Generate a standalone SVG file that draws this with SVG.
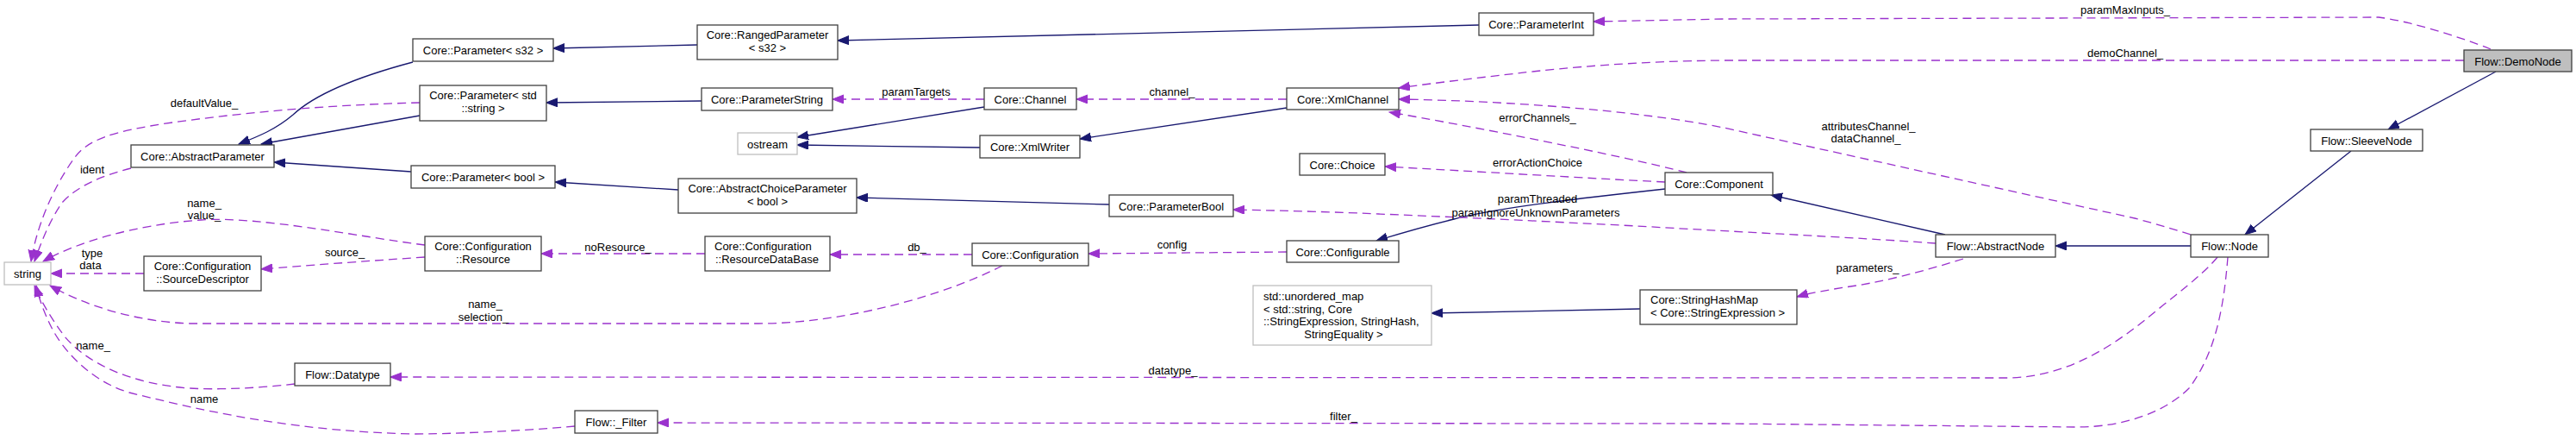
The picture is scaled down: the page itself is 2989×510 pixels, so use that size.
<svg xmlns="http://www.w3.org/2000/svg" width="2989" height="510" viewBox="0 0 2989 510">
<style>
text{font-family:"Liberation Sans",Arial,sans-serif;font-size:13px;fill:#000}
.n rect{fill:#fff;stroke:#404040;stroke-width:1.3}
.g rect{fill:#fff;stroke:#bfbfbf;stroke-width:1.3}
.cur rect{fill:#bfbfbf;stroke:#404040;stroke-width:1.3}
.c{text-anchor:middle}
.inh{fill:none;stroke:#191970;stroke-width:1.3;marker-end:url(#ai)}
.use{fill:none;stroke:#9a32cd;stroke-width:1.3;stroke-dasharray:10,6;marker-end:url(#au)}
</style>
<defs>
<marker id="ai" markerUnits="userSpaceOnUse" markerWidth="14" markerHeight="12" refX="13" refY="5" orient="auto"><path d="M0,0 L13,5 L0,10 Z" fill="#191970" stroke="#191970"/></marker>
<marker id="au" markerUnits="userSpaceOnUse" markerWidth="14" markerHeight="12" refX="13" refY="5" orient="auto"><path d="M0,0 L13,5 L0,10 Z" fill="#9a32cd" stroke="#9a32cd"/></marker>
</defs>
<rect width="2989" height="510" fill="#fff"/>
<g id="edges">
<path class="inh" d="M479,72 C430,85 370,105 340,133 C320,150 300,158 277,167"/>
<path class="inh" d="M487,134 L303,167"/>
<path class="inh" d="M477,199 L318,188"/>
<path class="inh" d="M809,52 L642,56"/>
<path class="inh" d="M1716,29 L972,47"/>
<path class="inh" d="M814,117 L634,119"/>
<path class="inh" d="M1142,124 L925,159"/>
<path class="inh" d="M1137,171 L925,168"/>
<path class="inh" d="M787,220 L644,211"/>
<path class="inh" d="M1287,237 L994,229"/>
<path class="inh" d="M1493,125 L1253,161"/>
<path class="inh" d="M1932,219 C1850,228 1740,240 1687,254 C1650,263 1620,272 1597,279"/>
<path class="inh" d="M2257,272 L2055,226"/>
<path class="inh" d="M2542,285 L2385,285"/>
<path class="inh" d="M2728,175 L2605,272"/>
<path class="inh" d="M2896,83 L2771,150"/>
<path class="inh" d="M1903,358 L1661,363"/>

<path class="use" d="M487,119 C400,121 300,128 200,142 C130,152 100,162 85,185 C60,220 42,265 36,303"/>
<path class="use" d="M152,195 C120,203 90,215 72,235 C58,255 48,280 40,303"/>
<path class="use" d="M493,284 C420,275 300,250 233,255 C160,260 90,280 50,303"/>
<path class="use" d="M167,317 L59,317"/>
<path class="use" d="M1163,308 C1120,330 1060,350 1000,362 C960,370 920,375 880,375 L220,375 C160,373 100,355 58,331"/>
<path class="use" d="M342,445 C300,450 250,452 220,450 C150,445 100,420 75,390 C60,370 48,350 40,331"/>
<path class="use" d="M667,494 C600,500 520,503 480,503 C350,500 250,480 150,455 C100,440 70,400 60,380 C50,360 45,345 42,331"/>
<path class="use" d="M493,298 C420,303 350,308 303,312"/>
<path class="use" d="M818,294 L628,294"/>
<path class="use" d="M1128,295 L963,295"/>
<path class="use" d="M1493,292 L1263,294"/>
<path class="use" d="M2573,298 C2555,320 2520,345 2490,370 C2440,410 2390,437 2330,438 L453,437"/>
<path class="use" d="M2585,298 C2580,360 2570,410 2540,450 C2510,480 2460,495 2410,495 L2000,491 L763,490"/>
<path class="use" d="M1142,115 L966,115"/>
<path class="use" d="M1493,115 L1249,115"/>
<path class="use" d="M2890,57 C2860,45 2800,25 2760,20 L2000,22 L1849,25"/>
<path class="use" d="M2859,70 L2000,70 C1900,71 1820,78 1760,85 C1700,92 1650,98 1623,102"/>
<path class="use" d="M2542,272 C2520,265 2500,259 2477,253 L2000,148 C1900,128 1750,117 1623,115"/>
<path class="use" d="M1957,200 C1880,180 1700,145 1612,130"/>
<path class="use" d="M1932,211 C1850,207 1700,198 1607,193"/>
<path class="use" d="M2246,282 C2150,275 2000,268 1900,262 C1800,257 1700,252 1600,248 C1530,245 1480,244 1431,243"/>
<path class="use" d="M2278,300 C2230,315 2180,328 2140,333 C2110,338 2095,341 2085,344"/>

<g class="c">
<text x="237" y="124">defaultValue_</text>
<text x="107" y="201">ident</text>
<text x="237" y="240">name_</text>
<text x="237" y="254">value_</text>
<text x="107" y="298">type</text>
<text x="105" y="312">data</text>
<text x="400" y="297">source_</text>
<text x="108" y="405">name_</text>
<text x="237" y="467">name</text>
<text x="717" y="291">noResource_</text>
<text x="563" y="357">name_</text>
<text x="561" y="372">selection_</text>
<text x="1064" y="291">db_</text>
<text x="1360" y="288">config</text>
<text x="1361" y="434">datatype_</text>
<text x="1559" y="487">filter_</text>
<text x="1063" y="111">paramTargets</text>
<text x="1360" y="111">channel_</text>
<text x="2466" y="16">paramMaxInputs_</text>
<text x="2466" y="66">demoChannel_</text>
<text x="2168" y="151">attributesChannel_</text>
<text x="2165" y="165">dataChannel_</text>
<text x="1784" y="141">errorChannels_</text>
<text x="1784" y="193">errorActionChoice</text>
<text x="1784" y="235">paramThreaded</text>
<text x="1782" y="251">paramIgnoreUnknownParameters</text>
<text x="2167" y="315">parameters_</text>
</g>
</g>

<g id="n_string" class="g"><rect x="5" y="304" width="54" height="26"/><text class="c" x="32" y="322">string</text></g>
<g id="n_abstractparameter" class="n"><rect x="152" y="168" width="166" height="26"/><text class="c" x="235" y="186">Core::AbstractParameter</text></g>
<g id="n_param_s32" class="n"><rect x="479" y="45" width="163" height="26"/><text class="c" x="560.5" y="63">Core::Parameter&lt; s32 &gt;</text></g>
<g id="n_param_string" class="n"><rect x="487" y="99" width="147" height="41"/><text class="c" x="560.5" y="115">Core::Parameter&lt; std</text><text class="c" x="560.5" y="130">::string &gt;</text></g>
<g id="n_param_bool" class="n"><rect x="477" y="192" width="167" height="26"/><text class="c" x="560.5" y="210">Core::Parameter&lt; bool &gt;</text></g>
<g id="n_ranged" class="n"><rect x="809" y="29" width="163" height="40"/><text class="c" x="890.5" y="45">Core::RangedParameter</text><text class="c" x="890.5" y="60">&lt; s32 &gt;</text></g>
<g id="n_paramstring" class="n"><rect x="814" y="102" width="152" height="26"/><text class="c" x="890" y="120">Core::ParameterString</text></g>
<g id="n_ostream" class="g"><rect x="856" y="154" width="69" height="25"/><text class="c" x="890.5" y="171.5">ostream</text></g>
<g id="n_choiceparam" class="n"><rect x="787" y="207" width="207" height="40"/><text class="c" x="890.5" y="223">Core::AbstractChoiceParameter</text><text class="c" x="890.5" y="238">&lt; bool &gt;</text></g>
<g id="n_resource" class="n"><rect x="493" y="274" width="135" height="40"/><text class="c" x="560.5" y="290">Core::Configuration</text><text class="c" x="560.5" y="305">::Resource</text></g>
<g id="n_sourcedesc" class="n"><rect x="167" y="297" width="136" height="40"/><text class="c" x="235" y="313">Core::Configuration</text><text class="c" x="235" y="328">::SourceDescriptor</text></g>
<g id="n_datatype" class="n"><rect x="342" y="421" width="111" height="26"/><text class="c" x="397.5" y="439">Flow::Datatype</text></g>
<g id="n_filter" class="n"><rect x="667" y="476" width="96" height="26"/><text class="c" x="715" y="494">Flow::_Filter</text></g>
<g id="n_resourcedb" class="n"><rect x="818" y="274" width="145" height="40"/><text x="829" y="290">Core::Configuration</text><text x="830" y="305">::ResourceDataBase</text></g>
<g id="n_configuration" class="n"><rect x="1128" y="282" width="135" height="26"/><text class="c" x="1195.5" y="300">Core::Configuration</text></g>
<g id="n_channel" class="n"><rect x="1142" y="102" width="107" height="25"/><text class="c" x="1195.5" y="119.5">Core::Channel</text></g>
<g id="n_xmlwriter" class="n"><rect x="1137" y="157" width="116" height="26"/><text class="c" x="1195" y="175">Core::XmlWriter</text></g>
<g id="n_parambool" class="n"><rect x="1287" y="226" width="144" height="25"/><text class="c" x="1359" y="243.5">Core::ParameterBool</text></g>
<g id="n_xmlchannel" class="n"><rect x="1493" y="102" width="130" height="25"/><text class="c" x="1558" y="119.5">Core::XmlChannel</text></g>
<g id="n_paramint" class="n"><rect x="1716" y="15" width="133" height="26"/><text class="c" x="1782.5" y="33">Core::ParameterInt</text></g>
<g id="n_choice" class="n"><rect x="1508" y="178" width="99" height="25"/><text class="c" x="1557.5" y="195.5">Core::Choice</text></g>
<g id="n_component" class="n"><rect x="1932" y="200" width="125" height="26"/><text class="c" x="1994.5" y="218">Core::Component</text></g>
<g id="n_configurable" class="n"><rect x="1493" y="279" width="130" height="25"/><text class="c" x="1558" y="296.5">Core::Configurable</text></g>
<g id="n_unordered_map" class="g"><rect x="1454" y="331" width="207" height="69"/><text x="1466" y="348">std::unordered_map</text><text x="1466" y="362.5">&lt; std::string, Core</text><text x="1466" y="377">::StringExpression, StringHash,</text><text class="c" x="1559" y="391.5">StringEquality &gt;</text></g>
<g id="n_stringhashmap" class="n"><rect x="1903" y="336" width="182" height="40"/><text x="1915" y="352">Core::StringHashMap</text><text x="1915" y="366.5">&lt; Core::StringExpression &gt;</text></g>
<g id="n_abstractnode" class="n"><rect x="2246" y="272" width="139" height="26"/><text class="c" x="2315.5" y="290">Flow::AbstractNode</text></g>
<g id="n_node" class="n"><rect x="2542" y="272" width="90" height="26"/><text class="c" x="2587" y="290">Flow::Node</text></g>
<g id="n_sleevenode" class="n"><rect x="2681" y="150" width="130" height="25"/><text class="c" x="2746" y="167.5">Flow::SleeveNode</text></g>
<g id="n_demonode" class="cur"><rect x="2859" y="58" width="125" height="25"/><text class="c" x="2921.5" y="75.5">Flow::DemoNode</text></g>
</svg>
